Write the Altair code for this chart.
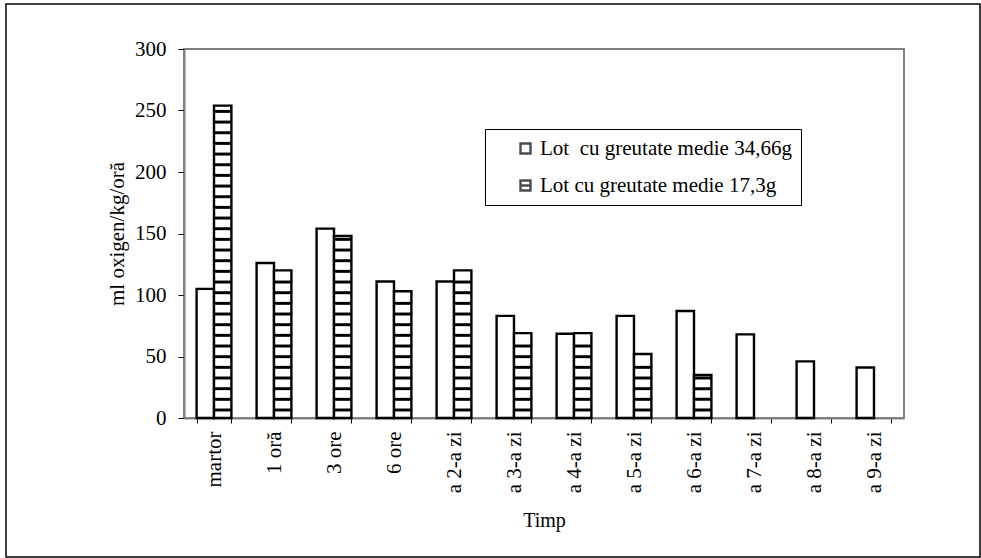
import altair as alt
import pandas as pd

categories = ["martor", "1 oră", "3 ore", "6 ore", "a 2-a zi", "a 3-a zi",
              "a 4-a zi", "a 5-a zi", "a 6-a zi", "a 7-a zi", "a 8-a zi", "a 9-a zi"]
series_names = ["Lot\u00a0 cu greutate medie 34,66g", "Lot cu greutate medie 17,3g"]
lot_34 = [105, 126, 154, 111, 111, 83, 68.5, 83, 87, 68, 46, 41]
lot_17 = [254, 120, 148, 103, 120, 69, 69, 52, 35, None, None, None]
y_ticks = [0, 50, 100, 150, 200, 250, 300]

FONT = "'Liberation Serif', 'Times New Roman', Times, serif"

rows = []
for c, a, b in zip(categories, lot_34, lot_17):
    rows.append({"cat": c, "series": series_names[0], "value": a})
    if b is not None:
        rows.append({"cat": c, "series": series_names[1], "value": b})
df = pd.DataFrame(rows)

# horizontal hatch pattern of the second series (decoration derived from the values)
STEP, BASE, THICK = 8.67, 5.3, 2.4
stripes = []
for c, b in zip(categories, lot_17):
    if b is None:
        continue
    lv = BASE
    while lv + THICK <= b - 1:
        stripes.append({"cat": c, "series": series_names[1], "lo": lv, "hi": lv + THICK})
        lv += STEP
sdf = pd.DataFrame(stripes)

x_enc = alt.X("cat:N", sort=categories,
              scale=alt.Scale(domain=categories, paddingInner=0.42, paddingOuter=0.21),
              axis=alt.Axis(title="Timp", labelAngle=-90, tickBand="extent", tickSize=5,
                            labelPadding=8, titlePadding=18, labelFontSize=21,
                            titleFontSize=20))
xo_enc = alt.XOffset("series:N", sort=series_names,
                     scale=alt.Scale(domain=series_names, paddingInner=0, paddingOuter=0))
y_enc = alt.Y("value:Q", scale=alt.Scale(domain=[0, 300], nice=False),
              axis=alt.Axis(title="ml oxigen/kg/oră", values=y_ticks, tickSize=6,
                            labelPadding=12, titlePadding=7, grid=False,
                            labelFontSize=21, titleFontSize=21))

frame = alt.Chart(alt.Data(values=[{}])).mark_rect(
    fill="white", fillOpacity=0, stroke="black", strokeWidth=1.5
).encode(x=alt.value(-178), x2=alt.value(796), y=alt.value(-45), y2=alt.value(508))

bars = alt.Chart(df).mark_bar(fill="white", stroke="black", strokeWidth=2.4).encode(
    x=x_enc, xOffset=xo_enc, y=y_enc)

hatch = alt.Chart(sdf).mark_bar(fill="black").encode(
    x=alt.X("cat:N", sort=categories),
    xOffset=alt.XOffset("series:N", sort=series_names),
    y=alt.Y("lo:Q"), y2="hi:Q")

legend_layer = alt.Chart(df).transform_filter("datum.value < 0").mark_point(
    filled=False, color="black", strokeWidth=2.4
).encode(
    x=alt.X("cat:N", sort=categories),
    y=alt.Y("value:Q"),
    shape=alt.Shape("series:N",
                    scale=alt.Scale(domain=series_names,
                                    range=["M-1,-1H1V1H-1Z", "M-1,-1H1V1H-1ZM-1,0H1"]),
                    legend=alt.Legend(title=None, orient="none", legendX=301, legendY=80,
                                      padding=9, strokeColor="black", fillColor="white",
                                      symbolOffset=21, symbolSize=100, symbolStrokeWidth=2.4,
                                      symbolStrokeColor="black", symbolFillColor="white",
                                      labelFont=FONT, labelFontSize=21, labelColor="black",
                                      labelOffset=4, rowPadding=15, labelLimit=500))
)

chart = alt.layer(frame, bars, hatch, legend_layer).properties(
    width=720, height=369,
    padding={"left": 5, "top": 3, "right": 0, "bottom": 0},
    background="white",
).configure_view(
    stroke="#808080", strokeWidth=2
).configure_axis(
    domainColor="#808080", domainWidth=2, tickColor="black", tickWidth=1,
    labelFont=FONT, titleFont=FONT, labelColor="black", titleColor="black",
    titleFontWeight="normal"
).configure_legend(
    labelFont=FONT
)

chart.save("out.html", embed_options={"renderer": "svg", "actions": False})
